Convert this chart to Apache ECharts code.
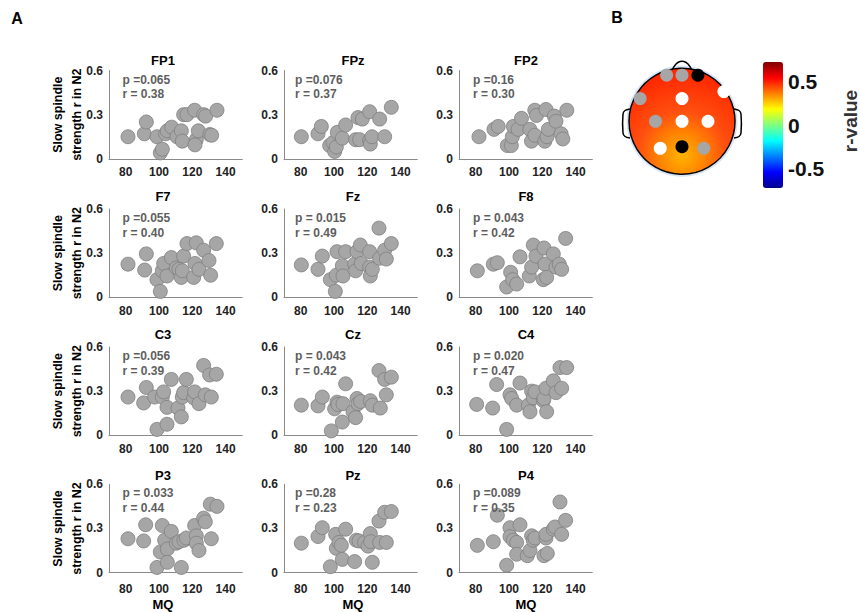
<!DOCTYPE html>
<html><head><meta charset="utf-8">
<script src="https://cdn.jsdelivr.net/npm/echarts@6/dist/echarts.min.js"></script>
<style>html,body{margin:0;padding:0;background:#fff}#c{width:860px;height:612px}</style>
</head><body><div id="c"></div>
<script>
// ---------- data ----------
const channels = ['FP1','FPz','FP2','F7','Fz','F8','C3','Cz','C4','P3','Pz','P4'];
const pLabels = ['p =0.065','p =0.076','p =0.16','p =0.055','p = 0.015','p = 0.043','p =0.056','p = 0.043','p = 0.020','p = 0.033','p =0.28','p =0.089'];
const rLabels = ['r = 0.38','r = 0.37','r = 0.30','r = 0.40','r = 0.49','r = 0.42','r = 0.39','r = 0.42','r = 0.47','r = 0.44','r = 0.23','r = 0.35'];
const mqTicks = [80,100,120,140];
const strengthTicks = [0,0.3,0.6];
const colorbarTicks = [-0.5,0,0.5];

const fp1 = [[81.4,0.15],[91.2,0.17],[92.4,0.25],[98.8,0.15],[100.8,0.04],[102,0.065],[104,0.17],[105,0.19],[107.6,0.215],[110.8,0.15],[113.4,0.19],[114,0.12],[114.8,0.30],[116.8,0.30],[121.4,0.33],[122.4,0.13],[121.6,0.095],[123.6,0.19],[126.8,0.30],[128,0.29],[130.5,0.165],[131.6,0.16],[134.8,0.33]];
const fpz = [[80.4,0.15],[90.4,0.17],[92.4,0.22],[97.4,0.09],[99.4,0.11],[100.4,0.05],[101.4,0.08],[102,0.18],[105,0.14],[107,0.23],[113,0.13],[114.4,0.28],[115.4,0.13],[117,0.27],[121.4,0.32],[121.4,0.125],[121.8,0.10],[122.8,0.15],[127.4,0.27],[130.4,0.15],[134.4,0.35]];
const fp2 = [[82,0.15],[91,0.20],[93.5,0.22],[99,0.09],[101.4,0.09],[102,0.15],[102.6,0.22],[105.5,0.20],[107.5,0.275],[112.5,0.20],[113.5,0.12],[115.5,0.16],[115.5,0.33],[116.5,0.295],[121.5,0.12],[122.2,0.335],[122.8,0.15],[123.6,0.20],[127.2,0.29],[128.2,0.255],[131.3,0.17],[132.3,0.135],[134.7,0.33]];
const f7 = [[81.4,0.225],[91.4,0.185],[92.4,0.295],[98.8,0.12],[100.8,0.04],[102,0.18],[102.8,0.23],[104.8,0.145],[107.4,0.27],[110.4,0.20],[112,0.19],[113.4,0.135],[114,0.18],[114.8,0.28],[116.8,0.365],[120.8,0.135],[121.6,0.23],[122.4,0.37],[124,0.19],[126.8,0.32],[130,0.25],[131,0.15],[134.4,0.365]];
const fz = [[80.4,0.22],[90.4,0.19],[93,0.28],[97.8,0.12],[100.8,0.04],[101.4,0.15],[101.8,0.31],[105,0.215],[105.4,0.145],[107,0.31],[112.4,0.225],[113,0.18],[113.8,0.31],[115.8,0.355],[116.4,0.23],[121.4,0.31],[121.4,0.205],[121.8,0.145],[123,0.19],[127,0.47],[127.4,0.265],[130.4,0.32],[131.4,0.26],[134.4,0.365]];
const f8 = [[81,0.18],[90.6,0.225],[93,0.235],[98.6,0.07],[101,0.17],[102.2,0.12],[104.6,0.09],[106.6,0.275],[112.2,0.145],[113.6,0.205],[114.6,0.355],[116.2,0.28],[120.6,0.12],[121,0.335],[121.6,0.225],[122.6,0.135],[126.6,0.295],[128.2,0.205],[130.2,0.225],[131.6,0.19],[134,0.40]];
const c3 = [[81.4,0.26],[90.8,0.22],[92.4,0.325],[97.4,0.26],[98.8,0.04],[102,0.26],[102.8,0.295],[104.8,0.075],[104.8,0.19],[107.4,0.38],[111.4,0.185],[113.4,0.125],[114,0.26],[114.8,0.29],[116.4,0.38],[120.8,0.255],[121.4,0.295],[124,0.215],[126.8,0.475],[127.8,0.275],[130.4,0.41],[131.4,0.26],[134.4,0.415]];
const cz = [[80.4,0.205],[90.4,0.20],[93,0.26],[98.4,0.03],[100.4,0.18],[101.8,0.225],[102.4,0.21],[105,0.09],[105.4,0.215],[107,0.35],[111.4,0.16],[113,0.12],[113.8,0.25],[114.4,0.215],[116,0.23],[121.8,0.235],[123,0.205],[127,0.44],[127.8,0.185],[130.4,0.38],[131.4,0.275],[134.4,0.395]];
const c4 = [[80.6,0.21],[90.2,0.185],[92.6,0.345],[98.6,0.04],[100.6,0.275],[101.6,0.25],[104.6,0.205],[106.6,0.355],[111.6,0.205],[112.6,0.16],[113.6,0.30],[114.6,0.255],[115.6,0.295],[120.6,0.235],[121,0.25],[122.2,0.32],[122.6,0.16],[126.6,0.37],[128.2,0.29],[130.6,0.46],[131.6,0.32],[134.6,0.46]];
const p3 = [[81.4,0.23],[90.8,0.215],[92,0.325],[98.8,0.035],[100.8,0.14],[102,0.32],[103.4,0.22],[105,0.16],[105,0.07],[107.4,0.28],[110.4,0.20],[112,0.21],[113.4,0.035],[115,0.22],[116.4,0.235],[121.4,0.32],[122.4,0.25],[122.4,0.20],[124,0.15],[126.8,0.37],[127.8,0.345],[130.8,0.465],[131.4,0.23],[134.8,0.45]];
const pz = [[80.4,0.20],[90.4,0.245],[93,0.305],[97.8,0.04],[101,0.26],[101.4,0.165],[103,0.205],[104.4,0.185],[105,0.09],[107,0.295],[112.4,0.075],[113.4,0.22],[115,0.215],[118.4,0.205],[120.4,0.18],[121.8,0.265],[122,0.21],[123,0.07],[127,0.35],[127.4,0.205],[130.4,0.41],[131.4,0.205],[134.4,0.415]];
const p4 = [[81,0.185],[90.6,0.21],[93,0.39],[98.6,0.05],[100.6,0.305],[100.6,0.245],[102.6,0.22],[104.6,0.205],[104.6,0.125],[106.6,0.325],[111,0.115],[112.6,0.15],[113.6,0.25],[114.6,0.22],[115.6,0.235],[121,0.115],[122.2,0.235],[122.2,0.26],[123,0.13],[126.6,0.295],[127.6,0.31],[130.6,0.48],[131.6,0.26],[134,0.355]];
const panelData = [fp1, fpz, fp2, f7, fz, f8, c3, cz, c4, p3, pz, p4];

// electrode montage (unit head coordinates) in channel order, and marker class
const electrodeX = [-0.29, 0, 0.30, -0.79, 0, 0.79, -0.50, 0, 0.49, -0.41, 0, 0.41];
const electrodeY = [0.87, 0.87, 0.87, 0.43, 0.43, 0.56, 0, 0, 0, -0.51, -0.48, -0.51];
const electrodeMark = ['gray','gray','black','gray','white','white','gray','white','white','white','black','gray'];

// ---------- layout / style ----------
const FONT = '"Liberation Sans", Arial, sans-serif';
const colLeft = [109, 284, 459];
const rowTop = [70.5, 209, 347, 484.3];
const gridW = 133.3, gridH = 88.3;
const titleX = [163, 353, 526];
const titleY = [60, 196.5, 334.5, 475];
const annOffX = [13.5, 11, 14];
const markColor = {gray:'#a6a6a6', white:'#ffffff', black:'#000000'};
const jet = ['#00008f','#0000ff','#007fff','#00ffff','#7fff7f','#ffff00','#ff7f00','#ff0000','#7f0000'];

const grids = [], xAxes = [], yAxes = [], series = [], graphics = [];

panelData.forEach((d, i) => {
  const col = i % 3, row = Math.floor(i / 3);
  grids.push({left: colLeft[col], top: rowTop[row], width: gridW, height: gridH});
  xAxes.push({
    gridIndex: i, type: 'value', min: 70, max: 150, interval: 10,
    axisLine: {show: true, onZero: false, lineStyle: {color: '#8a8a8a', width: 1}},
    axisTick: {show: false}, splitLine: {show: false},
    axisLabel: {formatter: v => mqTicks.includes(v) ? String(v) : '', margin: row === 3 ? 10 : 7.5,
      fontWeight: 'bold', fontSize: 12, color: '#222', fontFamily: FONT}
  });
  yAxes.push({
    gridIndex: i, type: 'value', min: 0, max: 0.6, interval: 0.3,
    axisLine: {show: true, onZero: false, lineStyle: {color: '#8a8a8a', width: 1}},
    axisTick: {show: false}, splitLine: {show: false},
    axisLabel: {formatter: v => strengthTicks.some(t => Math.abs(t - v) < 1e-9) ? String(+v.toFixed(1)) : '',
      margin: 6, fontWeight: 'bold', fontSize: 12, color: '#222', fontFamily: FONT}
  });
  series.push({
    type: 'scatter', xAxisIndex: i, yAxisIndex: i, data: d, symbolSize: 14, silent: true,
    itemStyle: {color: '#a6a6a6', borderColor: '#7f7f7f', borderWidth: 0.8, opacity: 1}
  });
  graphics.push({type: 'text', x: titleX[col], y: titleY[row], z: 20,
    style: {text: channels[i], font: 'bold 13px ' + FONT, fill: '#000', textAlign: 'center', textVerticalAlign: 'middle'}});
  graphics.push({type: 'text', x: colLeft[col] + annOffX[col], y: rowTop[row] + 9, z: 20,
    style: {text: pLabels[i], font: 'bold 12px ' + FONT, fill: '#5e5e5e', textAlign: 'left', textVerticalAlign: 'middle'}});
  graphics.push({type: 'text', x: colLeft[col] + annOffX[col], y: rowTop[row] + 23.5, z: 20,
    style: {text: rLabels[i], font: 'bold 12px ' + FONT, fill: '#5e5e5e', textAlign: 'left', textVerticalAlign: 'middle'}});
  if (col === 0) {
    graphics.push({type: 'text', x: 67.5, y: rowTop[row] + gridH / 2, rotation: Math.PI / 2, z: 20,
      style: {text: 'Slow spindle\nstrength r in N2', font: 'bold 12.5px ' + FONT, lineHeight: 19, fill: '#000', textAlign: 'center', textVerticalAlign: 'middle'}});
  }
  if (row === 3) {
    graphics.push({type: 'text', x: titleX[col], y: 604.5, z: 20,
      style: {text: 'MQ', font: 'bold 13px ' + FONT, fill: '#000', textAlign: 'center', textVerticalAlign: 'middle'}});
  }
});

// head topography grid
const headCx = 682, headCy = 121.3, headR = 53;
const hg = grids.length;
grids.push({left: headCx - headR, top: headCy - headR, width: 2 * headR, height: 2 * headR});
xAxes.push({gridIndex: hg, type: 'value', min: -1, max: 1, show: false});
yAxes.push({gridIndex: hg, type: 'value', min: -1, max: 1, show: false});
series.push({
  type: 'scatter', xAxisIndex: hg, yAxisIndex: hg, symbolSize: 13, z: 10, silent: true,
  data: electrodeX.map((x, k) => ({value: [x, electrodeY[k]], itemStyle: {color: markColor[electrodeMark[k]], opacity: 1}}))
});

// colorbar grid (for tick labels)
const cg = grids.length;
const cbTop = 62, cbH = 126, cbLeft = 763, cbW = 20;
grids.push({left: cbLeft, top: cbTop, width: cbW, height: cbH});
xAxes.push({gridIndex: cg, type: 'value', min: 0, max: 1, show: false});
yAxes.push({gridIndex: cg, type: 'value', min: -0.72, max: 0.72, position: 'right',
  axisLine: {show: false}, axisTick: {show: false}, splitLine: {show: false},
  axisLabel: {customValues: colorbarTicks, formatter: v => String(v), margin: 5, fontWeight: 'bold', fontSize: 21, color: '#111', fontFamily: FONT}});
const cbSeries = series.length;
series.push({type: 'scatter', xAxisIndex: cg, yAxisIndex: cg, data: [], silent: true});

// head drawing
graphics.push({type: 'circle', shape: {cx: headCx, cy: headCy, r: headR + 1.5}, z: 1,
  style: {fill: 'none', stroke: '#d5e5f5', lineWidth: 2}});
graphics.push({type: 'circle', shape: {cx: headCx, cy: headCy, r: headR}, z: 2,
  style: {fill: new echarts.graphic.RadialGradient(0.5, 0.82, 0.75, [
    {offset: 0, color: '#ffb400'}, {offset: 0.25, color: '#ff8a00'}, {offset: 0.55, color: '#ff5010'}, {offset: 1, color: '#ff2a00'}])}});
graphics.push({type: 'circle', shape: {cx: headCx, cy: headCy, r: headR}, z: 3,
  style: {fill: 'none', stroke: '#000', lineWidth: 1.5}});
graphics.push({type: 'polyline', z: 3, shape: {points: [[672, 70], [676, 64], [680, 61.5], [684, 61.5], [688, 64], [692, 70]], smooth: 0.3},
  style: {fill: 'none', stroke: '#000', lineWidth: 1.5}});
graphics.push({type: 'polyline', z: 3, shape: {points: [[630, 109], [625, 110.5], [623, 114], [623, 133], [625, 136.5], [630, 138]], smooth: 0.3},
  style: {fill: 'none', stroke: '#000', lineWidth: 1.5}});
graphics.push({type: 'polyline', z: 3, shape: {points: [[734, 109], [739, 110.5], [741, 114], [741, 133], [739, 136.5], [734, 138]], smooth: 0.3},
  style: {fill: 'none', stroke: '#000', lineWidth: 1.5}});

graphics.push({type: 'text', x: 850, y: 121, rotation: Math.PI / 2, z: 20,
  style: {text: 'r-value', font: 'bold 19px ' + FONT, fill: '#333', textAlign: 'center', textVerticalAlign: 'middle'}});
graphics.push({type: 'text', x: 17, y: 18, z: 20,
  style: {text: 'A', font: 'bold 16px ' + FONT, fill: '#000', textAlign: 'center', textVerticalAlign: 'middle'}});
graphics.push({type: 'text', x: 617, y: 17, z: 20,
  style: {text: 'B', font: 'bold 16px ' + FONT, fill: '#000', textAlign: 'center', textVerticalAlign: 'middle'}});

const chart = echarts.init(document.getElementById('c'), null, {renderer: 'svg'});
chart.setOption({
  animation: false,
  backgroundColor: '#fff',
  grid: grids, xAxis: xAxes, yAxis: yAxes, series: series,
  visualMap: [{
    type: 'continuous', min: -0.72, max: 0.72, left: cbLeft, top: cbTop, itemWidth: cbW, itemHeight: cbH,
    padding: 0, calculable: false, hoverLink: false, orient: 'vertical', seriesIndex: [cbSeries],
    inRange: {color: jet}, text: null, showLabel: false
  }],
  graphic: graphics
});
</script></body></html>
